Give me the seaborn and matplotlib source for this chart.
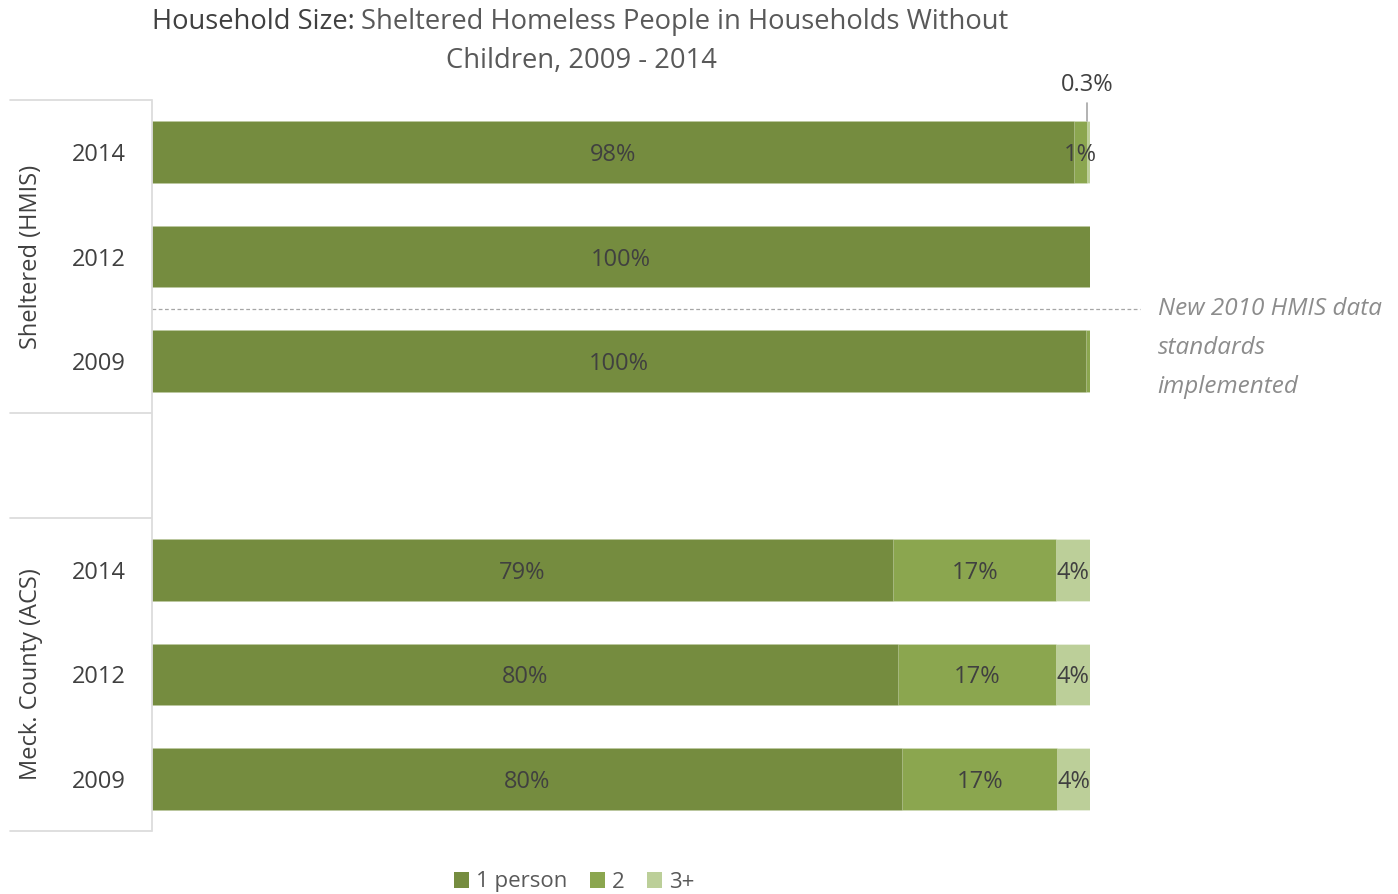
import matplotlib
matplotlib.use("Agg")
import matplotlib.pyplot as plt
import matplotlib.transforms as mtrans
from matplotlib.lines import Line2D
from matplotlib.patches import Patch
import seaborn as sns
import pandas as pd
import numpy as np

# ---------------- data ----------------
rows = ["S2014", "S2012", "S2009", "gap", "M2014", "M2012", "M2009"]
year_labels = ["2014", "2012", "2009", "", "2014", "2012", "2009"]
group_names = ["Sheltered (HMIS)", "Meck. County (ACS)"]
series_names = ["1 person", "2", "3+"]
one_person = [98.3, 100.0, 99.6, np.nan, 79.0, 79.5, 80.0]
two = [1.4, 0.0, 0.4, np.nan, 17.4, 16.9, 16.5]
three_plus = [0.3, 0.0, 0.0, np.nan, 3.6, 3.6, 3.5]
labels_one = ["98%", "100%", "100%", "", "79%", "80%", "80%"]
labels_two = ["1%", "", "", "", "17%", "17%", "17%"]
labels_three = ["", "", "", "", "4%", "4%", "4%"]
callout_label = "0.3%"
note_lines = ["New 2010 HMIS data", "standards", "implemented"]

# ---------------- style ----------------
sns.set_theme(style="white")
plt.rcParams["font.family"] = ["Open Sans", "DejaVu Sans"]
c1, c2, c3 = "#758C3F", "#8BA64F", "#BCCF99"
txt = "#404040"
grey = "#595959"
FS = 17

df = pd.DataFrame({"row": rows, "p1": one_person, "p2": two, "p3": three_plus}).dropna()
df["c2"] = df["p1"] + df["p2"]
df["c3"] = df["c2"] + df["p3"]

W, H = 1398, 894
fig = plt.figure(figsize=(W / 100, H / 100), dpi=100)
ax = fig.add_axes([152 / W, (H - 831) / H, 938 / W, 731 / H])

bw = 0.59
for col, color in [("c3", c3), ("c2", c2), ("p1", c1)]:
    sns.barplot(data=df, x=col, y="row", order=rows, orient="h", color=color,
                width=bw, errorbar=None, ax=ax, saturation=1,
                edgecolor=(1, 1, 1, 0.35), linewidth=0.6)

ax.set_xlim(0, 100)
ax.set_ylim(6.5, -0.5)
ax.set_xlabel("")
ax.set_ylabel("")
ax.set_xticks([])
ax.set_yticks(range(len(rows)))
ax.set_yticklabels(year_labels, fontsize=FS, color=txt)
ax.tick_params(axis="y", length=0, pad=19)
for s in ["top", "right", "bottom"]:
    ax.spines[s].set_visible(False)
ax.spines["left"].set_color("#d9d9d9")
ax.spines["left"].set_linewidth(1.2)

# segment labels
dy = 0.03
for i, r in enumerate(rows):
    if r == "gap":
        continue
    a, b, c = one_person[i], two[i], three_plus[i]
    if labels_one[i]:
        ax.text(a / 2, i + dy, labels_one[i], ha="center", va="center", fontsize=FS, color=txt)
    if labels_two[i]:
        ax.text(a + b / 2, i + dy, labels_two[i], ha="center", va="center", fontsize=FS, color=txt)
    if labels_three[i]:
        ax.text(a + b + c / 2, i + dy, labels_three[i], ha="center", va="center", fontsize=FS, color=txt)

# 0.3% callout
xc = one_person[0] + two[0] + three_plus[0] / 2 - 0.15
ax.plot([xc, xc], [-0.47, -bw / 2], color="#a6a6a6", lw=1.2, clip_on=False)
ax.text(xc, -0.53, callout_label, ha="center", va="bottom", fontsize=FS, color=txt)

# dashed separator and note
ax.plot([0, 105.3], [1.5, 1.5], ls=(0, (3, 2)), color="#a6a6a6", lw=0.9, clip_on=False)
for k, line in enumerate(note_lines):
    ax.text(107.2, 1.5 + k * 0.375, line, ha="left", va="center", fontsize=17.5,
            color="#8c8c8c", style="italic")

# left group lines and labels
bt = mtrans.blended_transform_factory(fig.transFigure, ax.transData)
for yv in [-0.5, 2.5, 3.5, 6.5]:
    fig.add_artist(Line2D([10 / W, 151 / W], [yv, yv], transform=bt, color="#d9d9d9", lw=1.2))
for yc, name in [(1, group_names[0]), (5, group_names[1])]:
    fig.text(31 / W, yc, name, transform=bt, rotation=90, ha="center", va="center",
             fontsize=FS, color=txt)

# title
TS = 19.7
t1 = fig.text(152 / W, 1 - 22 / H, "Household Size:", ha="left", va="center", fontsize=TS, color=txt)
fig.canvas.draw()
bb = t1.get_window_extent()
fig.text(bb.x1 / W + 6 / W, 1 - 22 / H, "Sheltered Homeless People in Households Without",
         ha="left", va="center", fontsize=TS, color=grey)
fig.text(581 / W, 1 - 61 / H, "Children, 2009 - 2014", ha="center", va="center", fontsize=TS, color=grey)

# legend
handles = [Patch(facecolor=c, edgecolor="none") for c in (c1, c2, c3)]
fig.legend(handles, series_names, loc="center", bbox_to_anchor=(574 / W, 1 - 882 / H), ncol=3,
           frameon=False, fontsize=16, handlelength=0.7, handleheight=0.7, handletextpad=0.3,
           columnspacing=1.0, labelcolor=grey)

fig.savefig("out.png", dpi=100)
